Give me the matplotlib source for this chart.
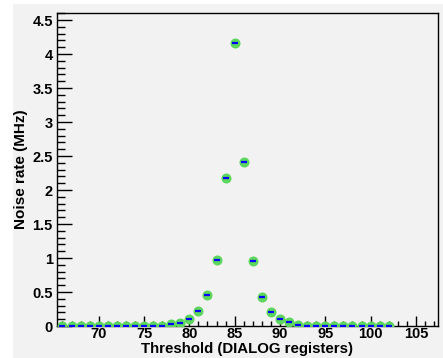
import numpy as np
import matplotlib
matplotlib.use("Agg")
import matplotlib.pyplot as plt
from matplotlib.patches import Rectangle
from matplotlib.ticker import MultipleLocator, FuncFormatter

# threshold scan (DIALOG register) vs noise rate in MHz
threshold = list(range(66, 103))
noise_rate = [0.0] * 12 + [0.03, 0.05, 0.10, 0.22, 0.45, 0.97, 2.17, 4.16,
                           2.41, 0.95, 0.42, 0.20, 0.10, 0.055, 0.02] + [0.0] * 10

plt.rcParams['font.family'] = ['Liberation Sans', 'DejaVu Sans']
plt.rcParams['font.weight'] = 'bold'

fig = plt.figure(figsize=(4.43, 3.58), dpi=100)
fig.patch.set_facecolor('white')
# grey canvas like the ROOT pad
fig.patches.append(Rectangle((13 / 443, 0), 1, 1 - 4 / 358, transform=fig.transFigure,
                             facecolor='#f2f2f2', edgecolor='none', zorder=-1))

ax = fig.add_axes([57 / 443, 32 / 358, (437.7 - 57) / 443, (344.7 - 32) / 358])
ax.set_facecolor('#f2f2f2')

ax.plot(threshold, noise_rate, linestyle='none', marker='o', markersize=6.2,
        markerfacecolor='#5cd65c', markeredgecolor='#5cd65c', zorder=3)
ax.plot(threshold, noise_rate, linestyle='none', marker='_', markersize=4.5,
        markeredgewidth=1.6, color='#0000ff', zorder=4)

ax.set_xlim(65.4, 107.4)
ax.set_ylim(0, 4.6)

ax.xaxis.set_major_locator(MultipleLocator(5))
ax.xaxis.set_minor_locator(MultipleLocator(1))
ax.yaxis.set_major_locator(MultipleLocator(0.5))
ax.yaxis.set_minor_locator(MultipleLocator(0.1))
ax.yaxis.set_major_formatter(FuncFormatter(lambda v, p: '%g' % v))

ax.tick_params(axis='both', which='both', direction='in', top=False, right=False,
               labelsize=10.5, width=1, color='black')
ax.tick_params(axis='x', which='major', length=7, pad=1)
ax.tick_params(axis='x', which='minor', length=3.5)
ax.tick_params(axis='y', which='major', length=11, pad=3)
ax.tick_params(axis='y', which='minor', length=6)

for s in ax.spines.values():
    s.set_linewidth(1)
    s.set_color('black')

ax.set_xlabel('Threshold (DIALOG registers)', fontsize=10.8, fontweight='bold')
ax.xaxis.set_label_coords(0.5, -0.050)
ax.set_ylabel('Noise rate (MHz)', fontsize=11, fontweight='bold', labelpad=3)

fig.savefig('out.png', dpi=100)
